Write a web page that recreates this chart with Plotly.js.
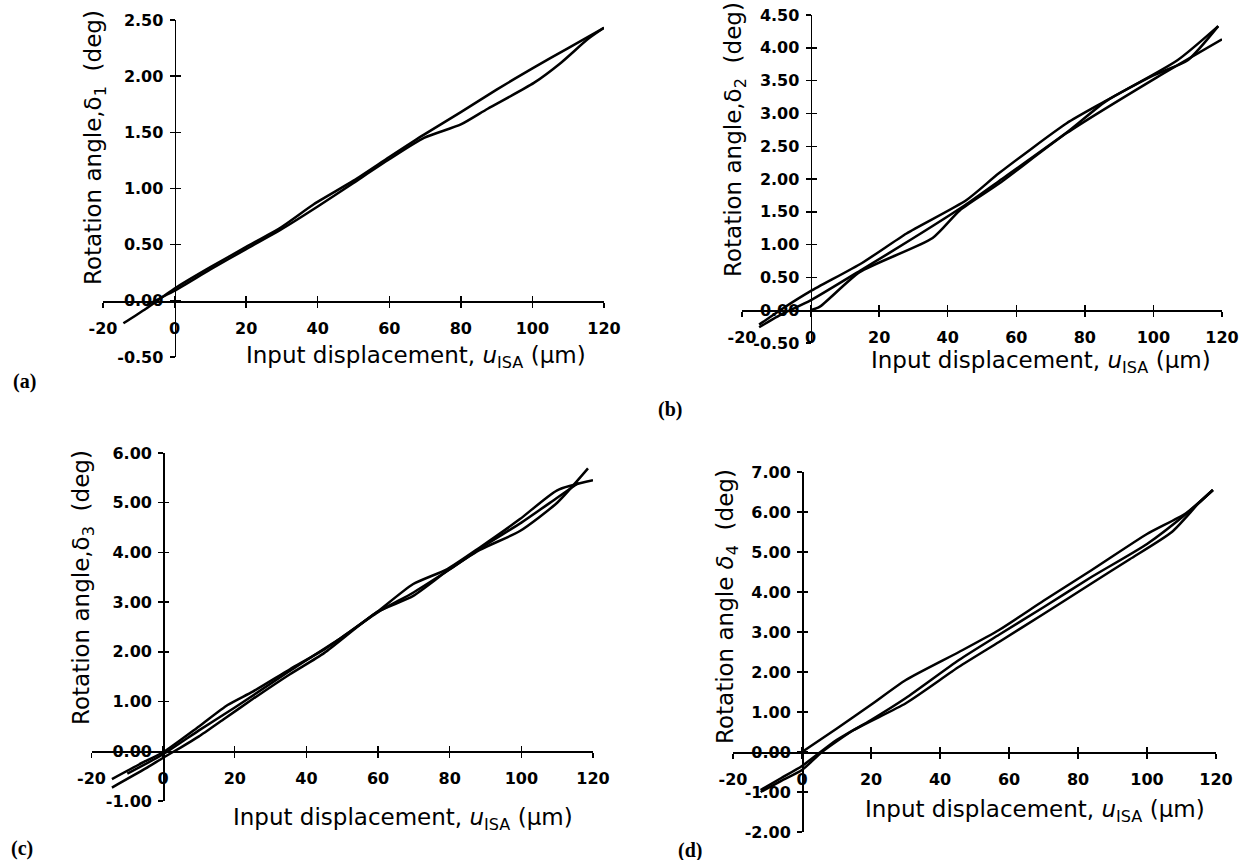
<!DOCTYPE html>
<html>
<head>
<meta charset="utf-8">
<script src="https://cdn.plot.ly/plotly-3.0.1.min.js"></script>
<style>html,body{margin:0;padding:0;background:#fff;}</style>
</head>
<body>
<div id="chart" style="width:1246px;height:860px;"></div>
<script>
// ---------------- data ----------------
const xTickVals = [-20, 0, 20, 40, 60, 80, 100, 120];
const xTickText = ["-20", "0", "20", "40", "60", "80", "100", "120"];
const yTicksA = [-0.5, 0, 0.5, 1, 1.5, 2, 2.5];
const yTicksB = [-0.5, 0, 0.5, 1, 1.5, 2, 2.5, 3, 3.5, 4, 4.5];
const yTicksC = [-1, 0, 1, 2, 3, 4, 5, 6];
const yTicksD = [-2, -1, 0, 1, 2, 3, 4, 5, 6, 7];

// (a) delta 1
const aLoadX = [-14.3, -8, 0, 10, 20, 30, 38.9, 50, 60, 69.7, 80, 90, 100, 110, 120];
const aLoadY = [-0.20, -0.07, 0.11, 0.30, 0.48, 0.66, 0.86, 1.07, 1.28, 1.48, 1.68, 1.88, 2.07, 2.25, 2.43];
const aUnloadX = [120, 115.5, 108, 100.4, 87.5, 80, 69.7, 60, 50, 40, 30, 20, 10, 0, -8];
const aUnloadY = [2.43, 2.33, 2.12, 1.94, 1.71, 1.57, 1.45, 1.26, 1.05, 0.84, 0.64, 0.46, 0.28, 0.09, -0.04];

// (b) delta 2
const bOuterX = [-15, -8, 0, 15, 28, 45.5, 55, 74.7, 86.4, 107, 118.9];
const bOuterY = [-0.22, 0.03, 0.29, 0.72, 1.17, 1.68, 2.09, 2.85, 3.2, 3.81, 4.33];
const bInnerX = [0, 2.6, 14.3, 35.6, 43.5, 55, 74.7, 101, 120];
const bInnerY = [0.0, 0.05, 0.58, 1.1, 1.52, 1.93, 2.70, 3.55, 4.13];
const bMidX = [-15, -8, 0, 15, 30, 45, 55, 75, 86, 100, 110, 118.9];
const bMidY = [-0.26, -0.05, 0.15, 0.62, 1.1, 1.6, 1.97, 2.72, 3.18, 3.58, 3.81, 4.33];

// (c) delta 3
const cUpX = [-14.3, -5, 0, 10, 18, 25, 35.4, 45, 52.2, 59.7, 69.7, 79.2, 88.4, 99.6, 110, 120];
const cUpY = [-0.56, -0.2, -0.02, 0.5, 0.93, 1.2, 1.65, 2.05, 2.41, 2.8, 3.36, 3.66, 4.1, 4.67, 5.25, 5.45];
const cLowX = [-14.3, -5, 0, 5, 10, 16.8, 25, 35.4, 45, 59.7, 69.7, 79.2, 88.4, 99.6, 110, 118.6];
const cLowY = [-0.73, -0.35, -0.13, 0.08, 0.3, 0.64, 1.05, 1.55, 1.98, 2.8, 3.12, 3.62, 4.05, 4.43, 5.0, 5.69];
const cMidX = [-10, 0, 10, 20, 35, 50, 60, 70, 80, 90, 100, 110, 116];
const cMidY = [-0.45, -0.06, 0.42, 0.88, 1.6, 2.3, 2.8, 3.2, 3.66, 4.15, 4.6, 5.1, 5.4];

// (d) delta 4
const dUpX = [0, 10, 20, 30.1, 45.5, 57.1, 70, 84, 100, 111.3, 119.1];
const dUpY = [0, 0.58, 1.18, 1.8, 2.5, 3.05, 3.78, 4.55, 5.45, 5.97, 6.55];
const dLowX = [-12, -6, 0, 5.8, 15, 30.1, 45.5, 57.1, 70, 84, 95, 107.2, 115, 119.1];
const dLowY = [-1.0, -0.72, -0.45, 0, 0.55, 1.22, 2.13, 2.75, 3.45, 4.22, 4.82, 5.5, 6.22, 6.55];
const dMidX = [-12, -6, 0, 10, 20, 30.1, 45.5, 57.1, 70, 84, 100, 112, 119.1];
const dMidY = [-0.95, -0.65, -0.35, 0.3, 0.8, 1.35, 2.3, 2.93, 3.62, 4.38, 5.2, 6.0, 6.55];

const yTitles = [
  "Rotation angle,δ<sub>1</sub>&nbsp; (deg)",
  "Rotation angle,δ<sub>2</sub>&nbsp; (deg)",
  "Rotation angle,δ<sub>3</sub>&nbsp; (deg)",
  "Rotation angle <i>δ</i><sub>4</sub>&nbsp; (deg)"
];
const xTitle = "Input displacement, <i>u</i><sub>ISA</sub> (μm)";
const panelLabels = ["(a)", "(b)", "(c)", "(d)"];

// ---------------- layout geometry ----------------
const W = 1246, H = 860;
const fx = px => px / W;
const fy = py => 1 - py / H;

const panels = [
  { series: [[aLoadX, aLoadY], [aUnloadX, aUnloadY]], yTicks: yTicksA, yRange: [-0.5, 2.5],
    px: [103, 604], py: [357, 20], yTitlePos: [95, 148], xTitlePos: [416, 357], labelPos: [24, 381] },
  { series: [[bOuterX, bOuterY], [bInnerX, bInnerY], [bMidX, bMidY]], yTicks: yTicksB, yRange: [-0.5, 4.5],
    px: [742, 1222], py: [343, 15], yTitlePos: [735, 140], xTitlePos: [1041, 362], labelPos: [670, 409] },
  { series: [[cUpX, cUpY], [cLowX, cLowY], [cMidX, cMidY]], yTicks: yTicksC, yRange: [-1, 6],
    px: [91.5, 593], py: [801, 453], yTitlePos: [83, 588], xTitlePos: [403, 819], labelPos: [22, 848] },
  { series: [[dUpX, dUpY], [dLowX, dLowY], [dMidX, dMidY]], yTicks: yTicksD, yRange: [-2, 7],
    px: [733, 1216], py: [832, 472], yTitlePos: [727, 607], xTitlePos: [1035, 811], labelPos: [690, 850] }
];
const xRange = [-20, 120];

const tickFont = { family: "DejaVu Sans", size: 16, color: "#000", weight: "bold" };
const titleFont = { family: "DejaVu Sans", size: 23, color: "#000" };

const data = [];
const layout = {
  width: W, height: H,
  margin: { l: 0, r: 0, t: 0, b: 0 },
  paper_bgcolor: "#fff", plot_bgcolor: "rgba(0,0,0,0)",
  showlegend: false,
  annotations: []
};

panels.forEach((p, i) => {
  const k = i + 1, ko = i + 5;
  const xs = k === 1 ? "" : String(k);
  const xd = [fx(p.px[0]), fx(p.px[1])];
  const yd = [fy(p.py[0]), fy(p.py[1])];
  const xAxisPos = yd[0] + (0 - p.yRange[0]) / (p.yRange[1] - p.yRange[0]) * (yd[1] - yd[0]);
  const yAxisPos = xd[0] + (0 - xRange[0]) / (xRange[1] - xRange[0]) * (xd[1] - xd[0]);

  p.series.forEach(s => {
    data.push({ x: s[0], y: s[1], type: "scatter", mode: "lines",
      line: { color: "#000", width: 2.5, shape: "spline", smoothing: 0.6 },
      xaxis: "x" + xs, yaxis: "y" + xs, hoverinfo: "skip" });
  });
  data.push({ x: [], y: [], type: "scatter", mode: "lines", xaxis: "x" + ko, yaxis: "y" + ko, hoverinfo: "skip" });

  const yFmt = p.yTicks.map(v => v.toFixed(2));
  layout["xaxis" + xs] = {
    domain: xd, range: xRange, autorange: false, fixedrange: true,
    anchor: "free", position: xAxisPos,
    showgrid: false, zeroline: false, showline: true, linecolor: "#000", linewidth: 1.8,
    ticks: "outside", ticklen: 5, tickwidth: 1.4, tickcolor: "#000",
    tickmode: "array", tickvals: xTickVals, ticktext: xTickText,
    tickfont: tickFont, ticklabelstandoff: 7
  };
  layout["yaxis" + xs] = {
    domain: yd, range: p.yRange, autorange: false, fixedrange: true,
    anchor: "free", position: yAxisPos,
    showgrid: false, zeroline: false, showline: true, linecolor: "#000", linewidth: 1.8,
    ticks: "outside", ticklen: 5, tickwidth: 1.4, tickcolor: "#000",
    tickmode: "array", tickvals: p.yTicks, ticktext: yFmt,
    tickfont: tickFont, ticklabelstandoff: 3
  };
  layout["xaxis" + ko] = {
    domain: xd, range: xRange, autorange: false, fixedrange: true,
    overlaying: "x" + xs, anchor: "free", position: xAxisPos,
    showgrid: false, zeroline: false, showline: false,
    ticks: "inside", ticklen: 5, tickwidth: 1.4, tickcolor: "#000",
    tickmode: "array", tickvals: xTickVals, showticklabels: false
  };
  layout["yaxis" + ko] = {
    domain: yd, range: p.yRange, autorange: false, fixedrange: true,
    overlaying: "y" + xs, anchor: "free", position: yAxisPos,
    showgrid: false, zeroline: false, showline: false,
    ticks: "inside", ticklen: 5, tickwidth: 1.4, tickcolor: "#000",
    tickmode: "array", tickvals: p.yTicks, showticklabels: false
  };

  layout.annotations.push({
    text: yTitles[i], xref: "paper", yref: "paper",
    x: fx(p.yTitlePos[0]), y: fy(p.yTitlePos[1]), xanchor: "center", yanchor: "middle",
    textangle: -90, showarrow: false, font: titleFont
  });
  layout.annotations.push({
    text: xTitle, xref: "paper", yref: "paper",
    x: fx(p.xTitlePos[0]), y: fy(p.xTitlePos[1]), xanchor: "center", yanchor: "middle",
    showarrow: false, font: titleFont
  });
  layout.annotations.push({
    text: panelLabels[i], xref: "paper", yref: "paper",
    x: fx(p.labelPos[0]), y: fy(p.labelPos[1]), xanchor: "center", yanchor: "middle",
    showarrow: false, font: { family: "Liberation Serif", size: 20, color: "#000", weight: "bold" }
  });
});

Plotly.newPlot("chart", data, layout, { displayModeBar: false, staticPlot: true });
</script>
</body>
</html>
